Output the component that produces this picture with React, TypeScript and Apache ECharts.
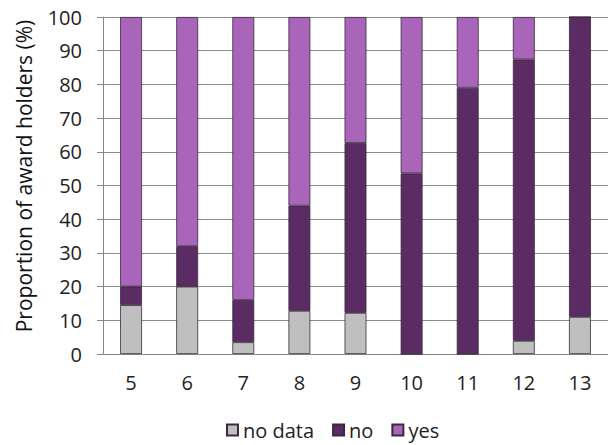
import React, { useEffect, useRef } from "react";
import * as echarts from "echarts";

const categories = ["5", "6", "7", "8", "9", "10", "11", "12", "13"];
const noData = [14.5, 20, 3.5, 12.8, 12.2, 0, 0, 3.9, 11];
const no = [5.5, 12, 12.5, 31.2, 50.4, 53.6, 79, 83.5, 89];
const yes = [80, 68, 84, 56, 37.4, 46.4, 21, 12.6, 0];
const yTicks = [0, 10, 20, 30, 40, 50, 60, 70, 80, 90, 100];
const yTitle = "Proportion of award holders (%)";

const FONT = "'Open Sans', 'Noto Sans', sans-serif";

export default function App() {
  const ref = useRef<HTMLDivElement>(null);
  useEffect(() => {
    if (!ref.current) return;
    const chart = echarts.init(ref.current, null, { renderer: "svg" });
    const barStyle = (color: string) => ({
      color,
      borderColor: "#3a2a3e",
      borderWidth: 0.8,
    });
    chart.setOption({
      animation: false,
      textStyle: { fontFamily: FONT },
      grid: { left: 103, right: 0, top: 17, bottom: 91 },
      graphic: [
        {
          type: "text",
          x: 24,
          y: 176,
          rotation: Math.PI / 2,
          style: {
            text: yTitle,
            fontSize: 21,
            fontFamily: FONT,
            fill: "#111",
            align: "center",
            verticalAlign: "middle",
          },
        },
      ],
      legend: {
        bottom: 0,
        left: 221,
        icon: "rect",
        itemWidth: 11,
        itemHeight: 11,
        itemGap: 18,
        textStyle: { fontSize: 20, color: "#222", fontFamily: FONT },
        data: ["no data", "no", "yes"],
      },
      xAxis: {
        type: "category",
        data: categories,
        axisLine: { lineStyle: { color: "#868686" } },
        axisTick: { length: 6, lineStyle: { color: "#868686" } },
        axisLabel: { fontSize: 20, color: "#222", margin: 18 },
      },
      yAxis: {
        type: "value",
        min: yTicks[0],
        max: yTicks[yTicks.length - 1],
        interval: 10,
        axisLine: { show: true, lineStyle: { color: "#868686" } },
        axisTick: { show: true, length: 6, lineStyle: { color: "#868686" } },
        axisLabel: { fontSize: 20, color: "#222", margin: 21 },
        splitLine: { lineStyle: { color: "#8c8c8c", width: 1 } },
      },
      series: [
        {
          name: "no data",
          type: "bar",
          stack: "s",
          data: noData,
          barWidth: "39%",
          itemStyle: barStyle("#bfbfbf"),
        },
        {
          name: "no",
          type: "bar",
          stack: "s",
          data: no,
          barWidth: "39%",
          itemStyle: barStyle("#5b2c63"),
        },
        {
          name: "yes",
          type: "bar",
          stack: "s",
          data: yes,
          barWidth: "39%",
          itemStyle: barStyle("#a965ba"),
        },
      ],
    });
    return () => chart.dispose();
  }, []);
  return <div ref={ref} style={{ width: 608, height: 445, position: "absolute", left: 0, top: 0 }} />;
}
